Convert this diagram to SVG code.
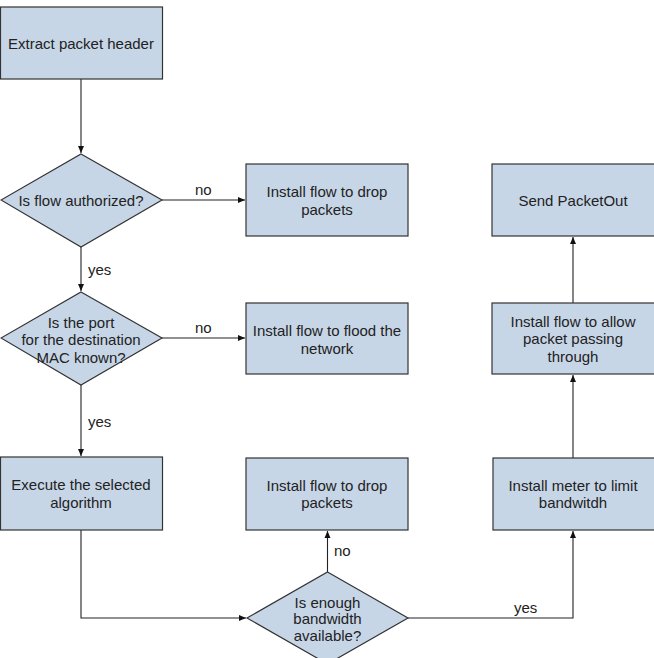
<svg xmlns="http://www.w3.org/2000/svg" width="654" height="658" viewBox="0 0 654 658">
<defs>
<style>
.box{fill:#c7d6e7;stroke:#333;stroke-width:1.2}
.t{font-family:"Liberation Sans",Arial,sans-serif;font-size:15px;fill:#222;text-anchor:middle;dominant-baseline:central}
.lbl{font-family:"Liberation Sans",Arial,sans-serif;font-size:15px;fill:#222;dominant-baseline:central}
.c{fill:none;stroke:#222;stroke-width:1.1}
</style>
<marker id="ah" markerWidth="8" markerHeight="8" refX="7" refY="4" orient="auto" markerUnits="userSpaceOnUse">
<path d="M0,1 L7,4 L0,7 Z" fill="#111"/>
</marker>
</defs>
<rect width="654" height="658" fill="#fff"/>
<g id="connectors">
<path class="c" d="M81,79 V153" marker-end="url(#ah)"/>
<path class="c" d="M162,200 H245" marker-end="url(#ah)"/>
<path class="c" d="M81,247 V291" marker-end="url(#ah)"/>
<path class="c" d="M162,338 H245" marker-end="url(#ah)"/>
<path class="c" d="M81,385 V456" marker-end="url(#ah)"/>
<path class="c" d="M81,530 V618 H246" marker-end="url(#ah)"/>
<path class="c" d="M327.5,572 V531" marker-end="url(#ah)"/>
<path class="c" d="M408,618 H573 V531" marker-end="url(#ah)"/>
<path class="c" d="M573,458 V375" marker-end="url(#ah)"/>
<path class="c" d="M573,303 V237" marker-end="url(#ah)"/>
<text class="lbl" x="195" y="189">no</text>
<text class="lbl" x="88" y="269">yes</text>
<text class="lbl" x="195" y="327">no</text>
<text class="lbl" x="88" y="421">yes</text>
<text class="lbl" x="334" y="550">no</text>
<text class="lbl" x="514" y="607">yes</text>
</g>
<g id="n1"><rect class="box" x="0.5" y="7" width="162" height="72"/><text class="t" x="81" y="43">Extract packet header</text></g>
<g id="d1"><polygon class="box" points="81,154 162,200 81,247 1,200"/><text class="t" x="81" y="200">Is flow authorized?</text></g>
<g id="n2"><rect class="box" x="246" y="164" width="162" height="72"/><text class="t" x="327" y="191">Install flow to drop</text><text class="t" x="327" y="209">packets</text></g>
<g id="d2"><polygon class="box" points="81,292 162,338 81,385 1,338"/><text class="t" x="81" y="322">Is the port</text><text class="t" x="81" y="339">for the destination</text><text class="t" x="81" y="357">MAC known?</text></g>
<g id="n3"><rect class="box" x="246" y="303" width="162" height="71"/><text class="t" x="327" y="330">Install flow to flood the</text><text class="t" x="327" y="348">network</text></g>
<g id="n4"><rect class="box" x="0.5" y="457" width="162" height="73"/><text class="t" x="81" y="484">Execute the selected</text><text class="t" x="81" y="502">algorithm</text></g>
<g id="n5"><rect class="box" x="246" y="458" width="162" height="72"/><text class="t" x="327" y="485">Install flow to drop</text><text class="t" x="327" y="502">packets</text></g>
<g id="d3"><polygon class="box" points="327.5,572 408,618 327.5,664 247,618"/><text class="t" x="327.5" y="602">Is enough</text><text class="t" x="327.5" y="618">bandwidth</text><text class="t" x="327.5" y="635">available?</text></g>
<g id="n6"><rect class="box" x="493" y="458" width="162" height="72"/><text class="t" x="573" y="485">Install meter to limit</text><text class="t" x="573" y="502">bandwitdh</text></g>
<g id="n7"><rect class="box" x="492" y="303" width="163" height="71"/><text class="t" x="573" y="321">Install flow to allow</text><text class="t" x="573" y="338">packet passing</text><text class="t" x="573" y="356">through</text></g>
<g id="n8"><rect class="box" x="492" y="164" width="163" height="72"/><text class="t" x="573" y="200">Send PacketOut</text></g>
</svg>
